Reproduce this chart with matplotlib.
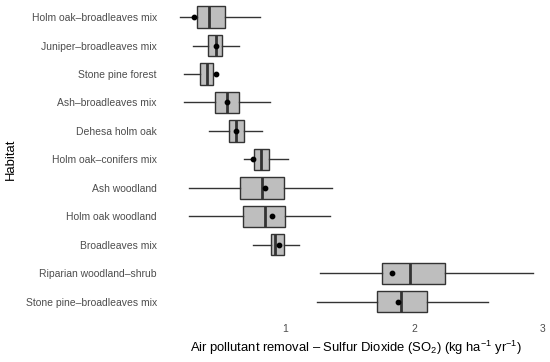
import matplotlib
matplotlib.use("Agg")
import matplotlib.pyplot as plt

plt.rcParams['font.family'] = ['Liberation Sans', 'DejaVu Sans']
plt.rcParams['mathtext.fontset'] = 'custom'
plt.rcParams['mathtext.rm'] = 'Liberation Sans'
plt.rcParams['mathtext.it'] = 'Liberation Sans'

habitats = ["Holm oak–broadleaves mix", "Juniper–broadleaves mix", "Stone pine forest",
            "Ash–broadleaves mix", "Dehesa holm oak", "Holm oak–conifers mix",
            "Ash woodland", "Holm oak woodland", "Broadleaves mix",
            "Riparian woodland–shrub", "Stone pine–broadleaves mix"]
whisker_low = [0.18, 0.28, 0.21, 0.21, 0.41, 0.68, 0.25, 0.25, 0.75, 1.27, 1.25]
q1 =          [0.31, 0.40, 0.34, 0.45, 0.56, 0.76, 0.65, 0.67, 0.89, 1.75, 1.71]
median =      [0.41, 0.46, 0.39, 0.55, 0.62, 0.81, 0.82, 0.84, 0.92, 1.97, 1.90]
q3 =          [0.53, 0.51, 0.44, 0.64, 0.68, 0.87, 0.99, 1.00, 0.99, 2.24, 2.10]
whisker_high = [0.80, 0.64, 0.44, 0.88, 0.82, 1.02, 1.36, 1.35, 1.11, 2.93, 2.58]
mean =        [0.29, 0.46, 0.46, 0.55, 0.62, 0.75, 0.84, 0.90, 0.95, 1.83, 1.88]
xticks = [1, 2, 3]

fig = plt.figure(figsize=(5.5, 3.62), dpi=100)
ax = fig.add_axes([0.2953, 0.1193, 0.705, 0.8807])

n = len(habitats)
positions = list(range(n, 0, -1))
stats = []
for i in range(n):
    stats.append(dict(whislo=whisker_low[i], q1=q1[i], med=median[i], q3=q3[i],
                      whishi=whisker_high[i], fliers=[], label=habitats[i]))

edge = '#333333'
ax.bxp(stats, positions=positions, vert=False, widths=0.75, patch_artist=True,
       showcaps=False,
       boxprops=dict(facecolor='#bebebe', edgecolor=edge, linewidth=1.0),
       whiskerprops=dict(color=edge, linewidth=1.0),
       medianprops=dict(color=edge, linewidth=2.0))
ax.scatter(mean, positions, s=10, color='black', zorder=5)

ax.set_xlim(0.044, 3.06)
ax.set_ylim(0.4, n + 0.6)
ax.set_xticks(xticks)
ax.set_xticklabels([str(t) for t in xticks])
ax.set_yticks(positions)
ax.set_yticklabels(habitats)
ax.tick_params(axis='both', length=0, labelsize=7.5, colors='#4d4d4d', pad=4)
for s in ax.spines.values():
    s.set_visible(False)
ax.set_xlabel("Air pollutant removal – Sulfur Dioxide (SO$_2$) (kg ha$^{-1}$ yr$^{-1}$)",
              fontsize=9.4, color='black', labelpad=3)
ax.set_ylabel("Habitat", fontsize=9.4, color='black', labelpad=6)

fig.savefig("out.png", dpi=100)
